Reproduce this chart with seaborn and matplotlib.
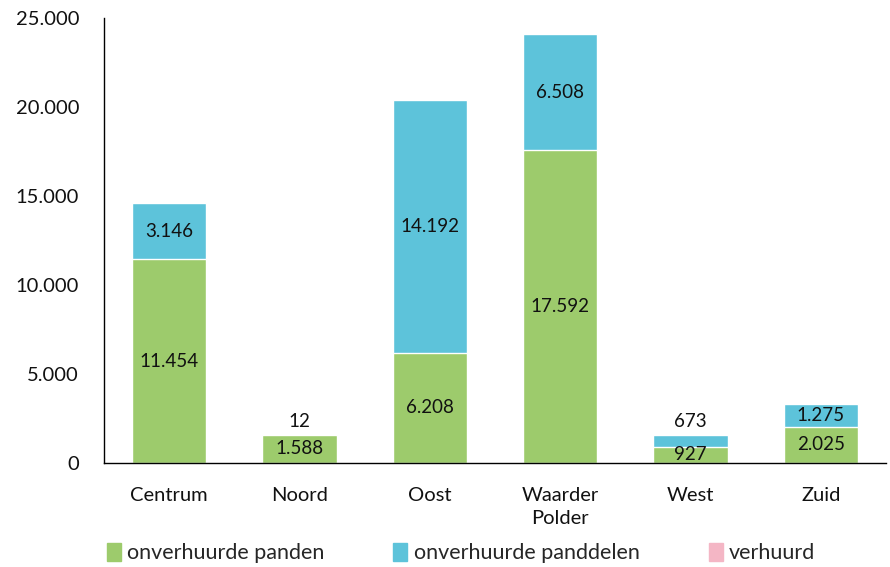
import pandas as pd
import matplotlib
matplotlib.use('Agg')
import matplotlib.pyplot as plt
import seaborn as sns
from matplotlib.patches import Patch

# data
gebieden = ['Centrum', 'Noord', 'Oost', 'Waarder\nPolder', 'West', 'Zuid']
panden = [11454, 1588, 6208, 17592, 927, 2025]
panddelen = [3146, 12, 14192, 6508, 673, 1275]
verhuurd = [0, 0, 0, 0, 0, 0]

groen = '#9DCB6C'
blauw = '#5DC3DA'
roze = '#F4B6C5'

sns.set_theme(style='white')
plt.rcParams['font.family'] = ['Lato', 'DejaVu Sans']

df = pd.DataFrame({'gebied': gebieden, 'panden': panden,
                   'panddelen': panddelen, 'verhuurd': verhuurd})
df['tot_delen'] = df['panden'] + df['panddelen']
df['tot_all'] = df['tot_delen'] + df['verhuurd']


def nl(v):
    return f'{v:,}'.replace(',', '.')


fig = plt.figure(figsize=(8.9, 5.67), dpi=100)
ax = fig.add_axes([0.117, 0.1834, 0.8785, 0.7846])

# stacked bars: draw cumulative totals from top down
sns.barplot(data=df, x='gebied', y='tot_all', color=roze, width=0.57,
            saturation=1, ax=ax)
sns.barplot(data=df, x='gebied', y='tot_delen', color=blauw, width=0.57,
            saturation=1, ax=ax)
sns.barplot(data=df, x='gebied', y='panden', color=groen, width=0.57,
            saturation=1, ax=ax)

# value labels
for i, row in df.iterrows():
    ax.text(i, row['panden'] / 2, nl(row['panden']), ha='center', va='center',
            fontsize=13.5, color='#111111')
    if row['panddelen'] < 1000:
        y = row['tot_delen'] + 750
    else:
        y = row['panden'] + row['panddelen'] / 2
    ax.text(i, y, nl(row['panddelen']), ha='center', va='center',
            fontsize=13.5, color='#111111')

ax.set_ylim(0, 25000)
ax.set_xlim(-0.5, 5.5)
ax.set_yticks(range(0, 25001, 5000))
ax.set_yticklabels([nl(v) for v in range(0, 25001, 5000)])
ax.set_xlabel('')
ax.set_ylabel('')
ax.tick_params(axis='y', length=0, pad=18, labelsize=14.5)
ax.tick_params(axis='x', length=0, pad=17, labelsize=14.5)
for lbl in ax.get_yticklabels() + ax.get_xticklabels():
    lbl.set_color('#111111')
    lbl.set_linespacing(1.45)

sns.despine(ax=ax)
ax.spines['left'].set_color('black')
ax.spines['bottom'].set_color('black')
ax.spines['left'].set_linewidth(1.0)
ax.spines['bottom'].set_linewidth(1.0)

handles = [Patch(color=groen, label='onverhuurde panden'),
           Patch(color=blauw, label='onverhuurde panddelen'),
           Patch(color=roze, label='verhuurd')]
fig.legend(handles=handles, loc='center', bbox_to_anchor=(0.518, 0.025),
           ncol=3, frameon=False, fontsize=15.5, handlelength=0.65,
           handleheight=0.9, handletextpad=0.3, columnspacing=3.2)

fig.savefig('out.png', dpi=100)
